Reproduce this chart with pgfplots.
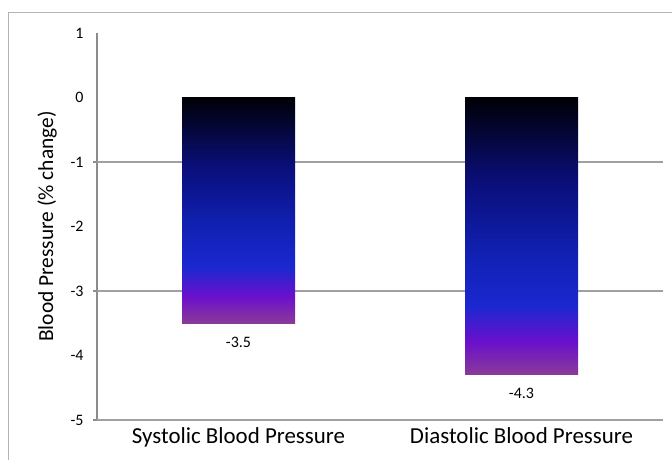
\documentclass[border=0pt]{standalone}
\usepackage{pgfplots}
\pgfplotsset{compat=1.18}
\usepackage{fontspec}
\setmainfont{Carlito}
\definecolor{gmag}{HTML}{8B3A98}
\definecolor{gpurp}{HTML}{6A10CC}
\definecolor{gblue}{HTML}{1A28D0}
\definecolor{gmid}{HTML}{1020B0}
\definecolor{gnavy}{HTML}{0A0E78}
\definecolor{gblack}{HTML}{000005}
\definecolor{axgray}{HTML}{8C8C8C}
\definecolor{gridgray}{HTML}{A0A0A0}
\definecolor{framegray}{HTML}{B4B4B4}
\pgfdeclareverticalshading{bargrad}{100bp}{color(0bp)=(gmag); color(25bp)=(gmag); color(31bp)=(gpurp); color(37.5bp)=(gblue); color(47.5bp)=(gmid); color(60bp)=(gnavy); color(75bp)=(gblack); color(100bp)=(gblack)}
\begin{document}
\begin{tikzpicture}[x=1bp,y=1bp]
\useasboundingbox (0,0) rectangle (672,460);
\draw[framegray, line width=1.5bp] (8.5,0) -- (8.5,447.5) -- (672,447.5);
\begin{axis}[
  at={(97bp,40bp)}, anchor=south west,
  width=566bp, height=387bp, scale only axis,
  xmin=-0.5, xmax=1.5, ymin=-5, ymax=1,
  axis lines=left, axis line style={-, axgray, line width=1.5bp},
  xtick={0,1}, xticklabels={Systolic Blood Pressure, Diastolic Blood Pressure},
  ytick={-5,-4,...,1},
  major tick length=0pt,
  extra y ticks={-5,-3,-1}, extra y tick labels={},
  extra tick style={grid=major, major tick length=4bp, tick align=outside},
  tick style={axgray, line width=1.2bp},
  major grid style={gridgray, line width=1.2bp},
  /pgf/number format/assume math mode=true,
  xticklabel style={font=\fontsize{23}{27}\selectfont, yshift=-4bp},
  yticklabel style={font=\fontsize{16}{19}\selectfont, xshift=-10bp},
  ylabel={Blood Pressure (\% change)},
  ylabel style={at={(axis description cs:-0.0883,0.5)}, anchor=center, font=\fontsize{21.5}{25}\selectfont},
  nodes near coords,
  every node near coord/.append style={font=\fontsize{16}{19}\selectfont, black, yshift=-10bp},
]
\addplot[ybar, bar width=113bp, bar shift=0pt, draw=none, shade, shading=bargrad] coordinates {(0,-3.5)};
\addplot[ybar, bar width=113bp, bar shift=0pt, draw=none, shade, shading=bargrad] coordinates {(1,-4.3)};
\end{axis}
\end{tikzpicture}
\end{document}
